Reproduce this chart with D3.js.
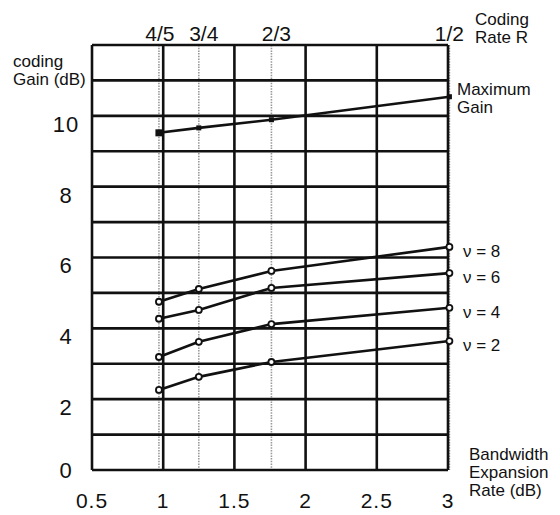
<!DOCTYPE html>
<html>
<head>
<meta charset="utf-8">
<script src="https://cdn.jsdelivr.net/npm/d3@7"></script>
<style>
  body { margin: 0; background: #fff; }
  text { font-family: "Liberation Sans", Arial, sans-serif; fill: #111; }
</style>
</head>
<body>
<svg id="chart" width="560" height="515"></svg>
<script>
// coding rates and their bandwidth expansion in dB (10 log10 1/R)
const rates = ["4/5", "3/4", "2/3", "1/2"];
const expansion = [0.97, 1.25, 1.76, 3.01];

// coding gain (dB) at each rate
const maxGain = [9.52, 9.66, 9.89, 10.54];
const nu8 = [4.75, 5.11, 5.62, 6.30];
const nu6 = [4.27, 4.52, 5.14, 5.56];
const nu4 = [3.19, 3.62, 4.12, 4.58];
const nu2 = [2.26, 2.63, 3.05, 3.64];

const curveLabels = ["\u03bd = 8", "\u03bd = 6", "\u03bd = 4", "\u03bd = 2"];

const xTicks = [0.5, 1, 1.5, 2, 2.5, 3];
const yTicks = [0, 2, 4, 6, 8, 10];
const yGrid = d3.range(0, 13);

const margin = { top: 45, right: 112, bottom: 45, left: 92 };
const svg = d3.select("#chart");
const width = 560 - margin.left - margin.right;
const height = 515 - margin.top - margin.bottom;

const x = d3.scaleLinear().domain([0.5, 3]).range([0, width]);
const y = d3.scaleLinear().domain([0, 12]).range([height, 0]);

const g = svg.append("g")
    .attr("transform", "translate(" + margin.left + "," + margin.top + ")");

// dotted lines at each coding rate
g.selectAll(".rate-line")
    .data(expansion)
    .enter().append("line")
    .attr("x1", d => x(d)).attr("x2", d => x(d))
    .attr("y1", 0).attr("y2", height)
    .attr("stroke", "#999")
    .attr("stroke-width", 1.6)
    .attr("stroke-dasharray", "1.5,1.2");

// grid
g.selectAll(".hgrid")
    .data(yGrid)
    .enter().append("line")
    .attr("x1", 0).attr("x2", width)
    .attr("y1", d => y(d)).attr("y2", d => y(d))
    .attr("stroke", "#111")
    .attr("stroke-width", 2.6);

g.selectAll(".vgrid")
    .data(xTicks)
    .enter().append("line")
    .attr("x1", d => x(d)).attr("x2", d => x(d))
    .attr("y1", 0).attr("y2", height)
    .attr("stroke", "#111")
    .attr("stroke-width", 2.6);

// tick labels
g.selectAll(".xlab")
    .data(xTicks)
    .enter().append("text")
    .attr("x", d => x(d))
    .attr("y", height + 38)
    .attr("text-anchor", "middle")
    .style("font-size", "21px")
    .style("letter-spacing", "1px")
    .text(d => d);

g.selectAll(".ylab")
    .data(yTicks)
    .enter().append("text")
    .attr("x", -26)
    .attr("y", d => y(d) + (d === 0 ? 0 : 8))
    .attr("dy", "0.36em")
    .attr("text-anchor", "middle")
    .style("font-size", "22px")
    .style("letter-spacing", "1px")
    .text(d => d);

g.selectAll(".ratelab")
    .data(rates)
    .enter().append("text")
    .attr("x", (d, i) => x(expansion[i]) + [1, 5, 5, 0][i])
    .attr("y", -4)
    .attr("text-anchor", "middle")
    .style("font-size", "21px")
    .text(d => d);

// curves
const line = d3.line()
    .x((d, i) => x(expansion[i]))
    .y(d => y(d));

const curves = [nu8, nu6, nu4, nu2];

[maxGain].concat(curves).forEach(values => {
    g.append("path")
        .datum(values)
        .attr("fill", "none")
        .attr("stroke", "#111")
        .attr("stroke-width", 2.6)
        .attr("d", line);
});

curves.forEach(values => {
    g.selectAll(null)
        .data(values)
        .enter().append("circle")
        .attr("cx", (d, i) => x(expansion[i]))
        .attr("cy", d => y(d))
        .attr("r", 3)
        .attr("fill", "#fff")
        .attr("stroke", "#111")
        .attr("stroke-width", 1.8);
});

g.selectAll(".maxpt")
    .data(maxGain)
    .enter().append("rect")
    .attr("x", (d, i) => x(expansion[i]) - (i === 0 ? 3.5 : 2.5))
    .attr("y", (d, i) => y(d) - (i === 0 ? 3.5 : 2.5))
    .attr("width", (d, i) => i === 0 ? 7 : 5)
    .attr("height", (d, i) => i === 0 ? 7 : 5)
    .attr("fill", "#111");

// curve labels on the right
g.selectAll(".curvelab")
    .data(curves)
    .enter().append("text")
    .attr("x", width + 15)
    .attr("y", d => y(d[d.length - 1]) + 4)
    .attr("dy", "0.35em")
    .style("font-size", "17px")
    .text((d, i) => curveLabels[i]);

const lastMax = y(maxGain[maxGain.length - 1]);
g.append("text")
    .attr("x", width + 9)
    .attr("y", lastMax - 2)
    .style("font-size", "17px")
    .text("Maximum");
g.append("text")
    .attr("x", width + 9)
    .attr("y", lastMax + 16)
    .style("font-size", "17px")
    .text("Gain");

// axis titles
svg.append("text").attr("x", 13).attr("y", 67).style("font-size", "17px").text("coding");
svg.append("text").attr("x", 13).attr("y", 85).style("font-size", "17px").text("Gain (dB)");

svg.append("text").attr("x", 475).attr("y", 25).style("font-size", "17px").text("Coding");
svg.append("text").attr("x", 475).attr("y", 43).style("font-size", "17px").text("Rate R");

svg.append("text").attr("x", 469).attr("y", 460).style("font-size", "17px").text("Bandwidth");
svg.append("text").attr("x", 469).attr("y", 478).style("font-size", "17px").text("Expansion");
svg.append("text").attr("x", 469).attr("y", 496).style("font-size", "17px").text("Rate (dB)");
</script>
</body>
</html>
